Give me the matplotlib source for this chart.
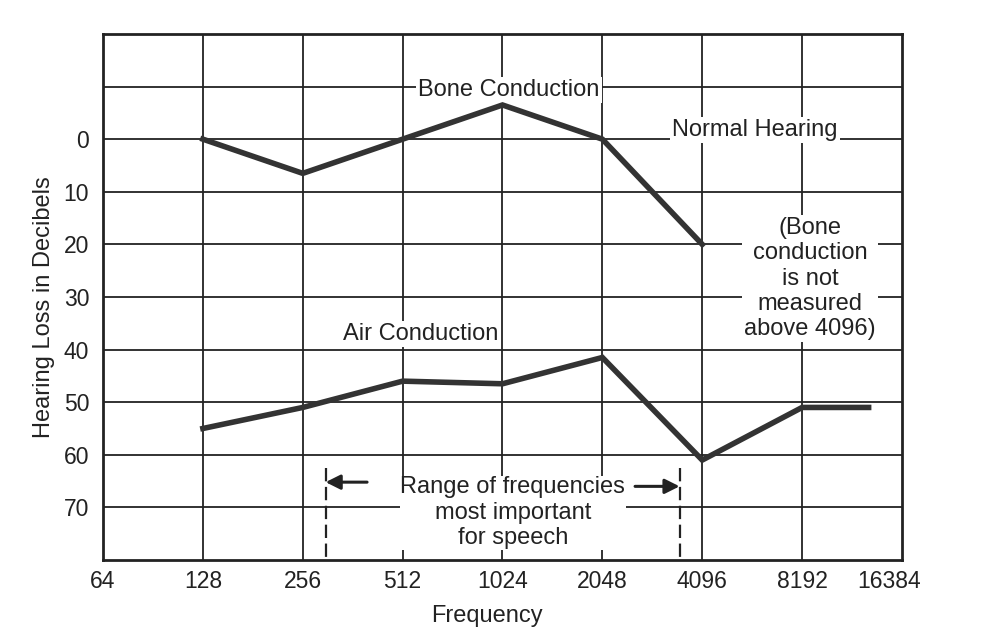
import numpy as np
import matplotlib.pyplot as plt
import matplotlib.transforms as mtransforms

plt.rcParams['font.family'] = ['Liberation Sans', 'DejaVu Sans']

# frequencies (Hz) and hearing loss (dB)
freq_ticks = [64, 128, 256, 512, 1024, 2048, 4096, 8192, 16384]
db_ticks = [0, 10, 20, 30, 40, 50, 60, 70]
db_grid = [-10, 0, 10, 20, 30, 40, 50, 60, 70]

bone_freq = [128, 256, 512, 1024, 2048, 4096]
bone_db = [0, 6.5, 0, -6.5, 0, 20]

air_freq = [128, 256, 512, 1024, 2048, 4096, 8192, 13000]
air_db = [55, 51, 46, 46.5, 41.5, 61, 51, 51]

speech_range = [300, 3500]

ink = '#222222'
line_col = '#333333'
fs = 17

fig = plt.figure(figsize=(9.85, 6.29), dpi=100)
ax = fig.add_axes([0.1046, 0.1097, 0.8111, 0.8363])

ax.set_xscale('log', base=2)
ax.set_xlim(64, 16384)
ax.set_ylim(80, -20)

# grid
for f in freq_ticks[1:-1]:
    ax.axvline(f, color=ink, lw=1.3, zorder=1)
for d in db_grid:
    ax.axhline(d, color=ink, lw=1.3, zorder=1)

# curves
ax.plot(bone_freq, bone_db, color=line_col, lw=4, solid_joinstyle='miter', zorder=3)
ax.plot(air_freq, air_db, color=line_col, lw=4, solid_joinstyle='miter', zorder=3)

box = dict(facecolor='white', edgecolor='none', pad=1.5)
ax.text(1070, -9.3, 'Bone Conduction', fontsize=fs, color=ink, ha='center', va='center', bbox=box, zorder=2)
ax.text(5900, -1.7, 'Normal Hearing', fontsize=fs, color=ink, ha='center', va='center', bbox=box, zorder=2)
ax.text(8660, 26.5, '(Bone\nconduction\nis not\nmeasured\nabove 4096)', fontsize=fs, color=ink,
        ha='center', va='center', linespacing=1.2, bbox=box, zorder=2)
ax.text(580, 37, 'Air Conduction', fontsize=fs, color=ink, ha='center', va='center', bbox=box, zorder=2)
ax.text(1100, 71, 'Range of frequencies\nmost important\nfor speech', fontsize=fs, color=ink,
        ha='center', va='center', linespacing=1.2, bbox=dict(facecolor='white', edgecolor='none', pad=0.5), zorder=2)

# speech range markers
for f in speech_range:
    ax.plot([f, f], [62.5, 80], color=ink, lw=1.6, ls=(0, (6, 2.5)), zorder=2)
arrow = dict(arrowstyle='-|>', color=ink, lw=2.2, mutation_scale=22, shrinkA=0, shrinkB=0)
ax.annotate('', xy=(speech_range[0], 65.2), xytext=(400, 65.2), arrowprops=arrow, zorder=4)
ax.annotate('', xy=(speech_range[1], 66), xytext=(2570, 66), arrowprops=arrow, zorder=4)

ax.set_xticks(freq_ticks)
ax.set_xticklabels([str(f) for f in freq_ticks])
ax.set_yticks(db_ticks)
ax.set_yticklabels([str(d) for d in db_ticks])
ax.minorticks_off()
ax.tick_params(axis='both', length=0, labelsize=16.5, labelcolor=ink)
ax.tick_params(axis='y', pad=10)
ax.tick_params(axis='x', pad=7)

# last frequency label sits a little inside the frame
last = ax.get_xticklabels()[-1]
last.set_transform(last.get_transform() + mtransforms.ScaledTranslation(-0.13, 0, fig.dpi_scale_trans))

for s in ax.spines.values():
    s.set_linewidth(2.0)
    s.set_color(ink)

ax.set_xlabel('Frequency', fontsize=fs, color=ink)
ax.set_ylabel('Hearing Loss in Decibels', fontsize=fs, color=ink)
ax.xaxis.set_label_coords(0.48, -0.085)
ax.yaxis.set_label_coords(-0.060, 0.48)

fig.savefig('out.png', dpi=100, facecolor='white')
